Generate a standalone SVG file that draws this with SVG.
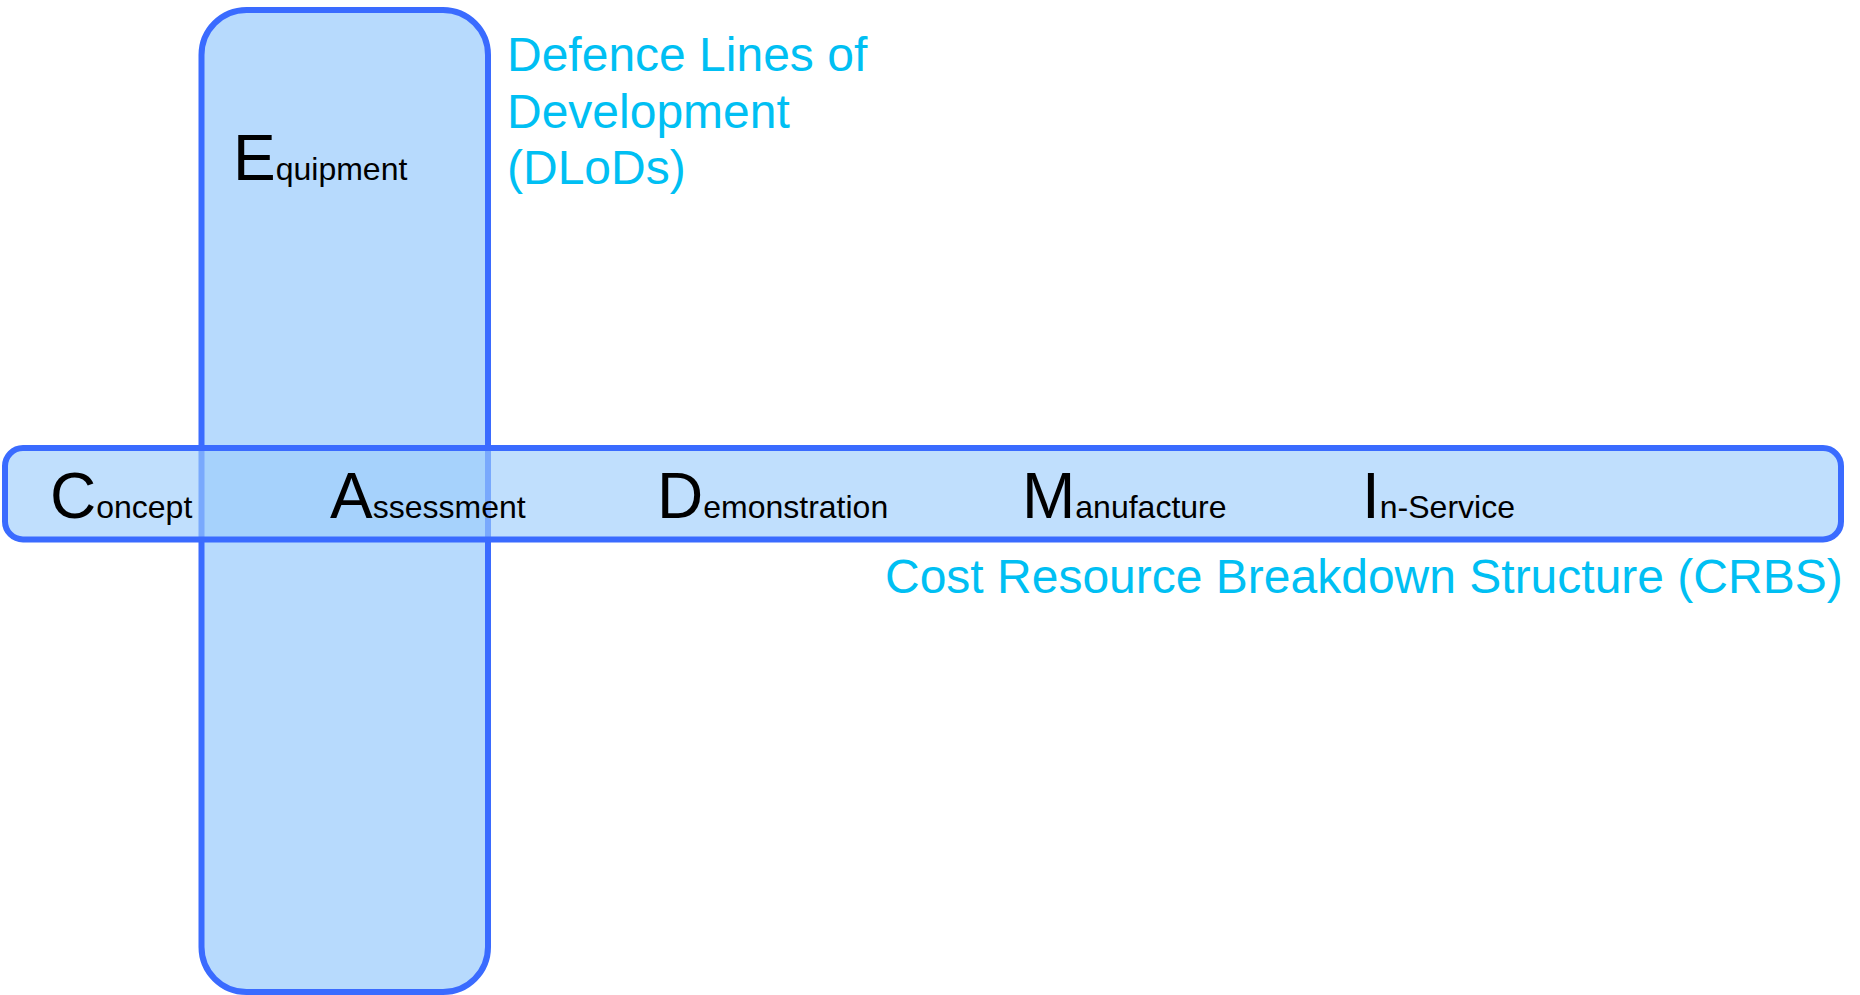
<svg xmlns="http://www.w3.org/2000/svg" width="1860" height="995" viewBox="0 0 1860 995">
<style>
.band{stroke:#3A6BFF;stroke-width:6}
.v{fill:#B7DAFD}
.h{fill:rgb(157,205,252);fill-opacity:0.64}
.lbl{font-family:"Liberation Sans",Arial,sans-serif;fill:#000}
.big{font-size:64px}
.small{font-size:32px}
.note{font-family:"Liberation Sans",Arial,sans-serif;fill:#00BFF3;font-size:48px}
</style>
<rect width="1860" height="995" fill="#FFFFFF"/>
<g id="dlod">
<rect class="band v" x="201.5" y="10" width="286.5" height="982" rx="45" ry="45"/>
<text class="lbl" x="233" y="180"><tspan class="big">E</tspan><tspan class="small">quipment</tspan></text>
</g>
<g id="dlod-label">
<text class="note"><tspan x="507" y="71">Defence Lines of</tspan><tspan x="507" y="127.5">Development</tspan><tspan x="507" y="184">(DLoDs)</tspan></text>
</g>
<g id="crbs">
<rect class="band h" x="5" y="448" width="1836" height="91.5" rx="18" ry="18"/>
<text class="lbl" x="50" y="518"><tspan class="big">C</tspan><tspan class="small">oncept</tspan></text>
<text class="lbl" x="330" y="518"><tspan class="big">A</tspan><tspan class="small">ssessment</tspan></text>
<text class="lbl" x="657" y="518"><tspan class="big">D</tspan><tspan class="small">emonstration</tspan></text>
<text class="lbl" x="1022" y="518"><tspan class="big">M</tspan><tspan class="small">anufacture</tspan></text>
<text class="lbl" x="1362" y="518"><tspan class="big">I</tspan><tspan class="small">n-Service</tspan></text>
</g>
<g id="crbs-label">
<text class="note" x="885" y="593">Cost Resource Breakdown Structure (CRBS)</text>
</g>
<g id="connectors"></g>
</svg>
